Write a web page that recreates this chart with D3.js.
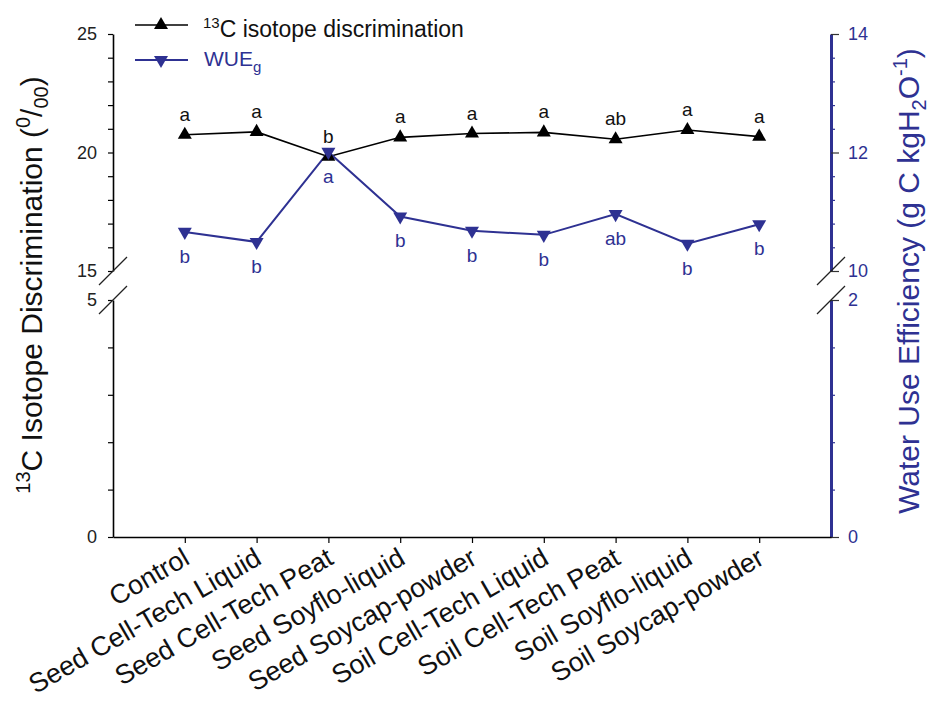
<html>

<head>
    <meta charset="utf-8">
    <title>13C isotope discrimination and WUE</title>
    <script src="https://cdn.jsdelivr.net/npm/d3@7/dist/d3.min.js" charset="utf-8"></script>
    <style>
        body { margin: 0; background: #fff; }
        text { font-family: Arial, "Liberation Sans", sans-serif; }
    </style>
</head>

<body>
    <div id="main-svg">
    </div>
</body>
<script>
    // data
    var treatments = ["Control", "Seed Cell-Tech Liquid", "Seed Cell-Tech Peat", "Seed Soyflo-liquid",
        "Seed Soycap-powder", "Soil Cell-Tech Liquid", "Soil Cell-Tech Peat", "Soil Soyflo-liquid", "Soil Soycap-powder"];
    var discrimination = [20.75, 20.87, 19.82, 20.64, 20.8, 20.85, 20.56, 20.95, 20.67];
    var discLetters = ["a", "a", "b", "a", "a", "a", "ab", "a", "a"];
    var wue = [10.66, 10.49, 12.01, 10.92, 10.68, 10.61, 10.96, 10.46, 10.79];
    var wueLetters = ["b", "b", "a", "b", "b", "b", "ab", "b", "b"];

    // broken axes: ticks and which ones carry a label
    var leftTopTicks = [15, 16, 17, 18, 19, 20, 21, 22, 23, 24, 25];
    var leftTopLabels = [15, 20, 25];
    var leftBottomTicks = [0, 1, 2, 3, 4, 5];
    var leftBottomLabels = [0, 5];
    var rightTopTicks = [10, 10.4, 10.8, 11.2, 11.6, 12, 12.4, 12.8, 13.2, 13.6, 14];
    var rightTopLabels = [10, 12, 14];
    var rightBottomTicks = [0, 0.4, 0.8, 1.2, 1.6, 2];
    var rightBottomLabels = [0, 2];

    var width = 930;
    var height = 703;
    var blue = "#2e3192";
    var leftX = 113, rightX = 831, baseY = 537;

    var svg = d3.select("#main-svg").append("svg")
        .attr("width", width)
        .attr("height", height);

    var x = d3.scalePoint().domain(treatments).range([leftX, rightX]).padding(1);
    var yLeftTop = d3.scaleLinear().domain([15, 25]).range([271, 34]);
    var yLeftBottom = d3.scaleLinear().domain([0, 5]).range([baseY, 300]);
    var yRightTop = d3.scaleLinear().domain([10, 14]).range([271, 34]);
    var yRightBottom = d3.scaleLinear().domain([0, 2]).range([baseY, 300]);

    function leftAxis(scale, ticks, labels) {
        var g = svg.append("g").attr("transform", "translate(" + leftX + ",0)")
            .call(d3.axisLeft(scale).tickValues(ticks).tickSize(5).tickSizeOuter(0).tickPadding(11)
                .tickFormat(function (d) { return labels.indexOf(d) >= 0 ? d : ""; }));
        g.select(".domain").attr("stroke", "#000").attr("stroke-width", 1.6);
        g.selectAll(".tick line").attr("stroke", "#000").attr("stroke-width", 1.2);
        g.selectAll(".tick text").attr("font-size", 18).attr("fill", "#222");
    }

    function rightAxis(scale, ticks, labels) {
        var g = svg.append("g").attr("transform", "translate(" + rightX + ",0)")
            .call(d3.axisRight(scale).tickValues(ticks).tickSize(4).tickSizeOuter(0).tickPadding(13)
                .tickFormat(function (d) { return labels.indexOf(d) >= 0 ? d : ""; }));
        g.select(".domain").attr("stroke", blue).attr("stroke-width", 3);
        g.selectAll(".tick line").attr("stroke", blue).attr("stroke-width", 1.2)
            .filter(function (d) { return labels.indexOf(d) >= 0; })
            .attr("x2", 8).attr("stroke", "#333");
        g.selectAll(".tick text").attr("font-size", 18).attr("fill", blue);
    }

    leftAxis(yLeftTop, leftTopTicks, leftTopLabels);
    leftAxis(yLeftBottom, leftBottomTicks, leftBottomLabels);
    rightAxis(yRightTop, rightTopTicks, rightTopLabels);
    rightAxis(yRightBottom, rightBottomTicks, rightBottomLabels);

    // break marks
    var breaks = [[leftX, yLeftTop(15)], [leftX, yLeftBottom(5)], [rightX, yRightTop(10)], [rightX, yRightBottom(2)]];
    svg.selectAll("line.brk").data(breaks).enter().append("line")
        .attr("class", "brk")
        .attr("x1", function (d) { return d[0] - 14; })
        .attr("y1", function (d) { return d[1] + 14; })
        .attr("x2", function (d) { return d[0] + 14; })
        .attr("y2", function (d) { return d[1] - 14; })
        .attr("stroke", "#222").attr("stroke-width", 1.3);

    // x axis
    var gx = svg.append("g").attr("transform", "translate(0," + baseY + ")")
        .call(d3.axisBottom(x).tickSize(6).tickSizeOuter(0));
    gx.select(".domain").attr("stroke", "#000").attr("stroke-width", 1.6);
    gx.selectAll(".tick line").attr("stroke", "#000").attr("stroke-width", 1.2);
    gx.selectAll(".tick text")
        .attr("font-size", 27).attr("fill", "#111")
        .attr("text-anchor", "end")
        .attr("x", 0).attr("y", 0).attr("dy", 0)
        .attr("transform", "translate(6,26) rotate(-30)");

    // lines
    var lineDisc = d3.line()
        .x(function (d, i) { return x(treatments[i]); })
        .y(function (d) { return yLeftTop(d); });
    var lineWue = d3.line()
        .x(function (d, i) { return x(treatments[i]); })
        .y(function (d) { return yRightTop(d); });

    svg.append("path").datum(discrimination).attr("d", lineDisc)
        .attr("fill", "none").attr("stroke", "#000").attr("stroke-width", 1.6);
    svg.append("path").datum(wue).attr("d", lineWue)
        .attr("fill", "none").attr("stroke", blue).attr("stroke-width", 2);

    var tri = d3.symbol().type(d3.symbolTriangle).size(85);

    svg.selectAll("path.disc").data(discrimination).enter().append("path")
        .attr("class", "disc")
        .attr("d", tri)
        .attr("transform", function (d, i) { return "translate(" + x(treatments[i]) + "," + yLeftTop(d) + ")"; })
        .attr("fill", "#000");

    svg.selectAll("path.wue").data(wue).enter().append("path")
        .attr("class", "wue")
        .attr("d", tri)
        .attr("transform", function (d, i) { return "translate(" + x(treatments[i]) + "," + yRightTop(d) + ") rotate(180)"; })
        .attr("fill", blue);

    // significance letters
    svg.selectAll("text.dl").data(discLetters).enter().append("text")
        .attr("class", "dl")
        .attr("x", function (d, i) { return x(treatments[i]); })
        .attr("y", function (d, i) { return yLeftTop(discrimination[i]) - 14; })
        .attr("text-anchor", "middle").attr("font-size", 19).attr("fill", "#111")
        .text(function (d) { return d; });

    svg.selectAll("text.wl").data(wueLetters).enter().append("text")
        .attr("class", "wl")
        .attr("x", function (d, i) { return x(treatments[i]); })
        .attr("y", function (d, i) { return yRightTop(wue[i]) + 31; })
        .attr("text-anchor", "middle").attr("font-size", 19).attr("fill", blue)
        .text(function (d) { return d; });

    // legend
    svg.append("line").attr("x1", 135).attr("x2", 188).attr("y1", 25).attr("y2", 25)
        .attr("stroke", "#000").attr("stroke-width", 1.6);
    svg.append("path").attr("d", tri).attr("transform", "translate(161,25)").attr("fill", "#000");
    var l1 = svg.append("text").attr("x", 203).attr("y", 37).attr("font-size", 23).attr("fill", "#111");
    l1.append("tspan").attr("font-size", 15).attr("dy", -9).text("13");
    l1.append("tspan").attr("dy", 9).text("C isotope discrimination");

    svg.append("line").attr("x1", 135).attr("x2", 188).attr("y1", 60).attr("y2", 60)
        .attr("stroke", blue).attr("stroke-width", 2);
    svg.append("path").attr("d", tri).attr("transform", "translate(161,60) rotate(180)").attr("fill", blue);
    var l2 = svg.append("text").attr("x", 204).attr("y", 66).attr("font-size", 21).attr("fill", blue);
    l2.append("tspan").text("WUE");
    l2.append("tspan").attr("font-size", 15).attr("dy", 6).text("g");

    // axis titles
    var t1 = svg.append("text").attr("transform", "translate(42,285) rotate(-90)")
        .attr("text-anchor", "middle").attr("font-size", 30).attr("fill", "#111");
    t1.append("tspan").attr("font-size", 20).attr("dy", -12).text("13");
    t1.append("tspan").attr("dy", 12).text("C Isotope Discrimination (");
    t1.append("tspan").attr("font-size", 20).attr("dy", -12).text("0");
    t1.append("tspan").attr("dy", 12).text("/");
    t1.append("tspan").attr("font-size", 20).attr("dy", 6).text("00");
    t1.append("tspan").attr("dy", -6).text(")");

    var t2 = svg.append("text").attr("transform", "translate(919,281) rotate(-90)")
        .attr("text-anchor", "middle").attr("font-size", 30).attr("fill", blue);
    t2.append("tspan").text("Water Use Efficiency (g C kgH");
    t2.append("tspan").attr("font-size", 20).attr("dy", 7).text("2");
    t2.append("tspan").attr("dy", -7).text("O");
    t2.append("tspan").attr("font-size", 20).attr("dy", -12).text("-1");
    t2.append("tspan").attr("dy", 12).text(")");
</script>

</html>
